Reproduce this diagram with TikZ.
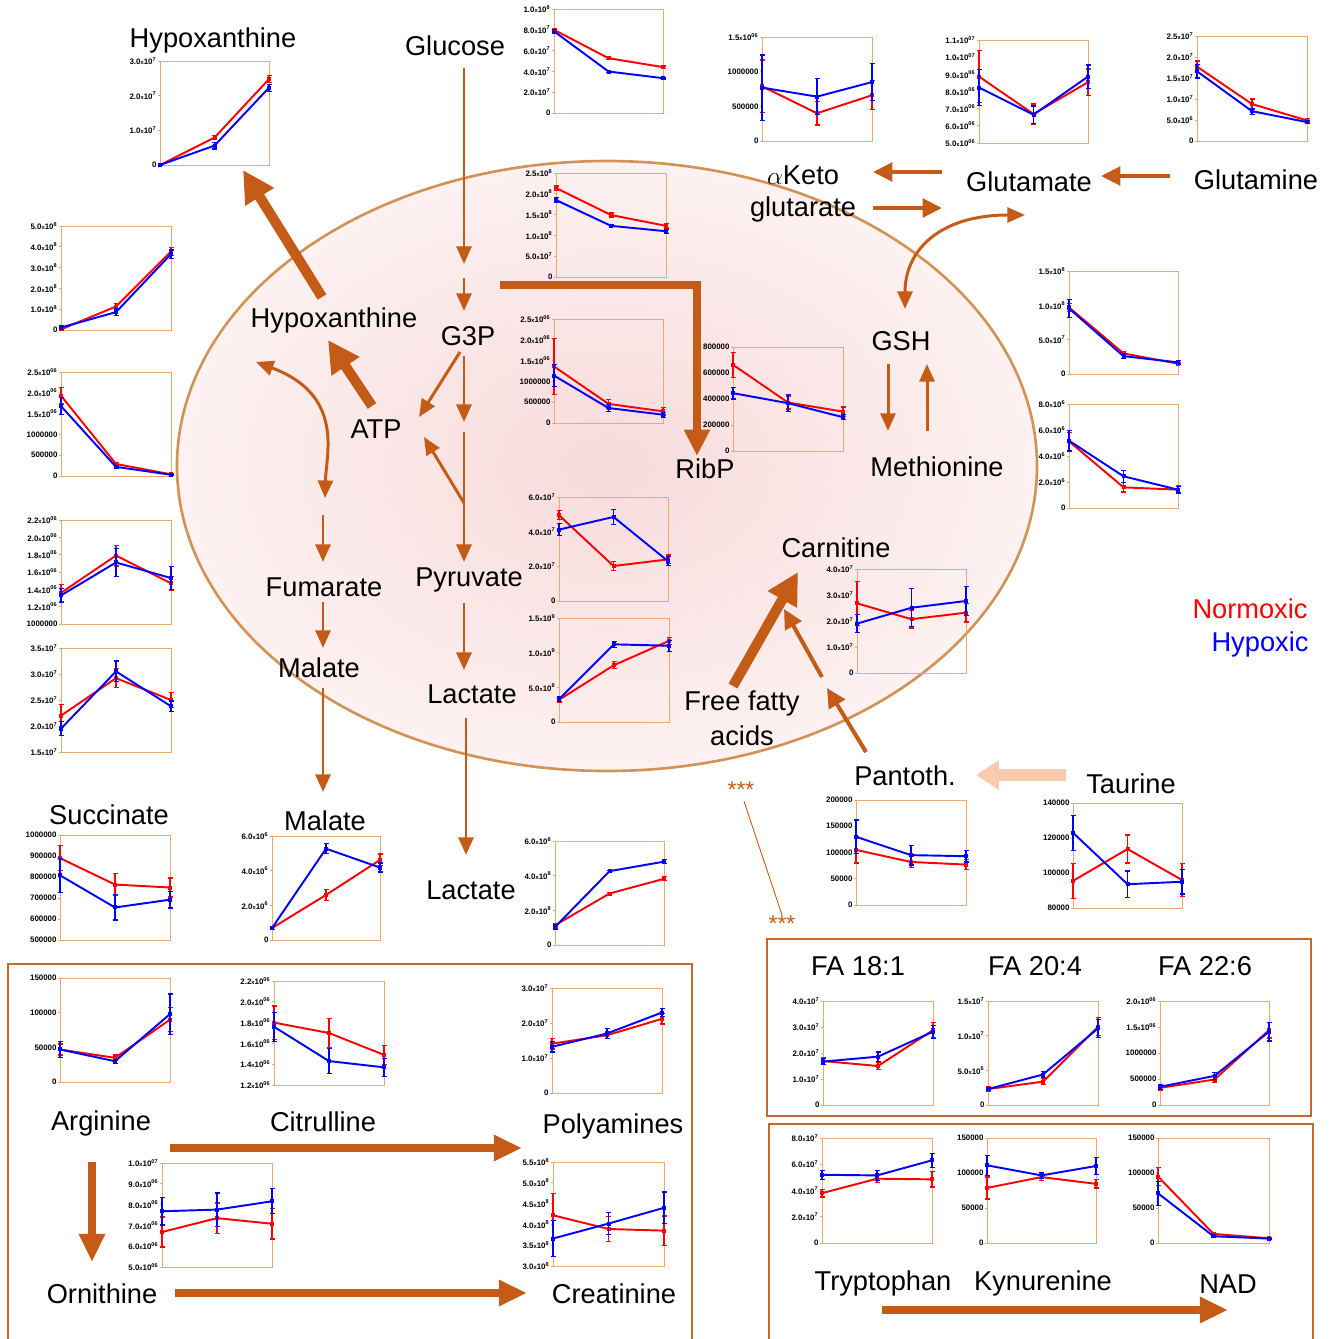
\documentclass[tikz,border=0pt]{standalone}
\usepackage{fontspec}
\setmainfont{Liberation Sans}
\usepackage{xcolor}
\usepackage{tikz}
\usetikzlibrary{arrows.meta}
\usetikzlibrary{positioning}

\definecolor{flowc}{RGB}{196,92,24}
\definecolor{paleflowc}{RGB}{250,202,172}
\definecolor{framec}{RGB}{232,170,112}
\definecolor{cellc}{RGB}{210,148,86}
\definecolor{cellin}{RGB}{248,219,219}
\definecolor{cellout}{RGB}{253,241,241}
\definecolor{boxc}{RGB}{198,106,44}

% tick label like 1.0x10^7
\newcommand{\sci}[2]{#1{\fontsize{3.3}{4}\selectfont x}10\textsuperscript{#2}}

% one data series: colour, three value/error pairs
\newcommand{\chseries}[2]{%
  \foreach \v/\e [count=\i from 0] in {#2}{%
    \pgfmathsetmacro\px{\chL+\i*(\chR-\chL)/2}
    \pgfmathsetmacro\py{\chB-(\v-\chLo)/(\chHi-\chLo)*(\chB-\chT)}
    \pgfmathsetmacro\pe{\e/(\chHi-\chLo)*(\chB-\chT)}
    \coordinate (pt\i) at (\px,\py);
    \draw[#1,errbar] (\px-2.5,\py-\pe) -- (\px+2.5,\py-\pe)
      (\px,\py-\pe) -- (\px,\py+\pe) (\px-2.5,\py+\pe) -- (\px+2.5,\py+\pe);
  }
  \draw[#1,serline] (pt0) -- (pt1) -- (pt2);
  \foreach \i in {0,1,2} \fill[#1] (pt\i) +(-2,-2) rectangle +(2,2);
}

% left, top, right, bottom, ymin, ymax, ticks, red, blue
\newcommand{\minichart}[9]{%
  \def\chL{#1}\def\chT{#2}\def\chR{#3}\def\chB{#4}\def\chLo{#5}\def\chHi{#6}%
  \draw[chartframe] (#1,#2) rectangle (#3,#4);
  \foreach \tv/\tl in {#7}{%
    \pgfmathsetmacro\ty{#4-(\tv-#5)/(#6-#5)*(#4-#2)}
    \draw[chartframe] (#1,\ty) -- ++(-2,0) node[ticklab] {\tl};
  }
  \chseries{red}{#8}
  \chseries{blue}{#9}
}

\begin{document}
\begin{tikzpicture}[x=0.02cm,y=-0.02cm,
  lab/.style={font=\fontsize{15.5}{18}\selectfont,anchor=base,inner sep=0pt},
  stars/.style={font=\fontsize{13}{14}\selectfont,text=flowc,anchor=base,inner sep=0pt},
  ticklab/.style={font=\fontsize{4.5}{5}\selectfont\bfseries,anchor=east,inner sep=0.6pt},
  chartframe/.style={draw=framec,line width=0.5pt},
  errbar/.style={line width=0.7pt},
  serline/.style={line width=1.1pt,line join=round},
  flow/.style={draw=flowc,line width=1.7pt,-{Triangle[length=10pt,width=8.5pt]}},
  midflow/.style={draw=flowc,line width=2.3pt,-{Triangle[length=11pt,width=10.5pt]}},
  thickflow/.style={draw=flowc,line width=4.4pt,-{Triangle[length=16pt,width=14pt]}},
  hugeflow/.style={draw=flowc,line width=5.8pt,-{Triangle[length=18pt,width=18pt]}},
  paleflow/.style={draw=paleflowc,line width=6.8pt,-{Triangle[length=13pt,width=16pt]}},
  bothflow/.style={draw=flowc,line width=1.7pt,{Triangle[length=10pt,width=8.5pt]}-{Triangle[length=10pt,width=8.5pt]}},
  boxline/.style={draw=boxc,line width=1.1pt}]
\useasboundingbox (0,0) rectangle (1334,1339);

% the cell
\shade[inner color=cellin,outer color=cellout] (607,466) ellipse (430 and 305);
\draw[cellc,line width=1.5pt] (607,466) ellipse (430 and 305);

% group frames
\draw[boxline] (8,964) rectangle (692,1350);
\draw[boxline] (767,939) rectangle (1311,1116);
\draw[boxline] (769,1124) rectangle (1313,1350);

% metabolite names
\node[lab] (hyptop) at (213,47) {Hypoxanthine};
\node[lab] (glc) at (455,55) {Glucose};
\node[lab] (akg) at (803,184) {$\alpha$Keto};
\node[lab] (akg2) at (803,216) {glutarate};
\node[lab] (glu) at (1029,191) {Glutamate};
\node[lab] (gln) at (1256,189) {Glutamine};
\node[lab] (hyp) at (334,327) {Hypoxanthine};
\node[lab] (g3p) at (468,345) {G3P};
\node[lab] (gsh) at (901,350) {GSH};
\node[lab] (atp) at (376,438) {ATP};
\node[lab] (ribp) at (705,478) {RibP};
\node[lab] (met) at (937,476) {Methionine};
\node[lab] (carn) at (836,557) {Carnitine};
\node[lab] (fum) at (324,596) {Fumarate};
\node[lab] (pyr) at (469,586) {Pyruvate};
\node[lab] (mal) at (319,677) {Malate};
\node[lab] (lac) at (472,703) {Lactate};
\node[lab] (ffa) at (742,710) {Free fatty};
\node[lab] (ffa2) at (742,745) {acids};
\node[lab,text=red] (normox) at (1250,618) {Normoxic};
\node[lab,text=blue] (hypox) at (1260,651) {Hypoxic};
\node[lab] (pan) at (905,785) {Pantoth.};
\node[lab] (tau) at (1131,793) {Taurine};
\node[lab] (suc) at (109,824) {Succinate};
\node[lab] (mal2) at (325,830) {Malate};
\node[lab] (lac2) at (471,899) {Lactate};
\node[lab] (fa181) at (858,975) {FA 18:1};
\node[lab] (fa204) at (1035,975) {FA 20:4};
\node[lab] (fa226) at (1205,975) {FA 22:6};
\node[lab] (arg) at (101,1130) {Arginine};
\node[lab] (cit) at (323,1131) {Citrulline};
\node[lab] (pam) at (613,1133) {Polyamines};
\node[lab] (orn) at (102,1303) {Ornithine};
\node[lab] (crn) at (614,1303) {Creatinine};
\node[lab] (trp) at (883,1290) {Tryptophan};
\node[lab] (kyn) at (1043,1290) {Kynurenine};
\node[lab] (nad) at (1228,1293) {NAD};
\node[stars] (st1) at (741,797) {***};
\node[stars] (st2) at (782,931) {***};

% arrow ends
\coordinate (glc-out) at (464,68);   \coordinate (g3p-up) at (464,264);
\coordinate (g3p-in0) at (464,278);  \coordinate (g3p-in) at (464,311);
\coordinate (g3p-out) at (464,356);  \coordinate (g3p-dn) at (464,422);
\coordinate (g3p-sw) at (460,352);   \coordinate (atp-ne) at (419,417);
\coordinate (pyr-up) at (464,432);   \coordinate (pyr-in) at (464,562);
\coordinate (pyr-br) at (464,503);   \coordinate (atp-e) at (424,437);
\coordinate (atp-n) at (372,406);    \coordinate (hyp-s) at (328,340);
\coordinate (hyp-n) at (322,297);    \coordinate (hyptop-s) at (243,170);
\coordinate (ppp-a) at (500,285);    \coordinate (ppp-b) at (697,285);
\coordinate (ribp-n) at (697,456);
\coordinate (hyp-sw) at (256,362);   \coordinate (fum-up) at (325,498);
\coordinate (fum-n0) at (323,515);   \coordinate (fum-n) at (323,562);
\coordinate (fum-s) at (323,602);    \coordinate (mal-n) at (323,648);
\coordinate (mal-s) at (323,688);    \coordinate (mal2-n) at (323,792);
\coordinate (pyr-s) at (464,603);    \coordinate (lac-n) at (464,670);
\coordinate (lac-s) at (466,718);    \coordinate (lac2-n) at (466,855);
\coordinate (glu-w) at (942,172);    \coordinate (akg-e) at (873,172);
\coordinate (akg-e2) at (873,208);   \coordinate (glu-w2) at (942,208);
\coordinate (gln-w) at (1170,176);   \coordinate (glu-e) at (1101,176);
\coordinate (gsh-n) at (905,309);    \coordinate (glu-se) at (1025,215);
\coordinate (gsh-s) at (888,364);    \coordinate (met-n) at (888,431);
\coordinate (met-n2) at (927,431);   \coordinate (gsh-s2) at (927,364);
\coordinate (ffa-n) at (733,686);    \coordinate (carn-s) at (798,572);
\coordinate (pan-n) at (866,752);    \coordinate (mid-a) at (827,688);
\coordinate (mid-b) at (822,677);    \coordinate (carn-se) at (784,609);
\coordinate (tau-w) at (1066,775);   \coordinate (pan-e) at (976,775);
\coordinate (arg-e) at (170,1148);   \coordinate (pam-w) at (522,1148);
\coordinate (arg-s) at (92,1162);    \coordinate (orn-n) at (92,1262);
\coordinate (orn-e) at (175,1293);   \coordinate (crn-w) at (527,1293);
\coordinate (trp-s) at (882,1310);   \coordinate (nad-s) at (1228,1310);

% arrows
\draw[flow] (glc-out) -- (g3p-up);
\draw[flow] (g3p-in0) -- (g3p-in);
\draw[flow] (g3p-out) -- (g3p-dn);
\draw[flow] (g3p-sw) -- (atp-ne);
\draw[flow] (pyr-up) -- (pyr-in);
\draw[flow] (pyr-br) -- (atp-e);
\draw[hugeflow] (atp-n) -- (hyp-s);
\draw[hugeflow] (hyp-n) -- (hyptop-s);
\draw[thickflow,-{Triangle[length=15pt,width=14pt]}] (ppp-a) -- (ppp-b) -- (ribp-n);
\draw[bothflow] (hyp-sw) .. controls (345,395) and (326,455) .. (fum-up);
\draw[flow] (fum-n0) -- (fum-n);
\draw[flow] (fum-s) -- (mal-n);
\draw[flow] (mal-s) -- (mal2-n);
\draw[flow] (pyr-s) -- (lac-n);
\draw[flow] (lac-s) -- (lac2-n);
\draw[midflow] (glu-w) -- (akg-e);
\draw[midflow] (akg-e2) -- (glu-w2);
\draw[midflow] (gln-w) -- (glu-e);
\draw[bothflow] (gsh-n) .. controls (905,250) and (940,215) .. (glu-se);
\draw[flow] (gsh-s) -- (met-n);
\draw[flow] (met-n2) -- (gsh-s2);
\draw[hugeflow] (ffa-n) -- (carn-s);
\draw[midflow] (pan-n) -- (mid-a);
\draw[midflow] (mid-b) -- (carn-se);
\draw[paleflow] (tau-w) -- (pan-e);
\draw[flowc,line width=0.5pt] (st1.south) ++(3,4) coordinate (st1-s) -- (st2.north);
\draw[thickflow] (arg-e) -- (pam-w);
\draw[thickflow] (arg-s) -- (orn-n);
\draw[thickflow] (orn-e) -- (crn-w);
\draw[thickflow] (trp-s) -- (nad-s);

% small charts
\minichart{160}{61}{269}{165}{0}{3}{0/0,1/\sci{1.0}{7},2/\sci{2.0}{7},3/\sci{3.0}{7}}
  {0/0,0.79/0.06,2.48/0.1}{0/0,0.56/0.1,2.23/0.1}
\minichart{554}{9}{663}{113}{0}{10}{0/0,2/\sci{2.0}{7},4/\sci{4.0}{7},6/\sci{6.0}{7},8/\sci{8.0}{7},10/\sci{1.0}{8}}
  {8.0/0.1,5.27/0.1,4.41/0.1}{7.85/0.15,3.99/0.08,3.35/0.08}
\minichart{762}{37}{872}{141}{0}{1.5}{0/0,0.5/500000,1/1000000,1.5/\sci{1.5}{06}}
  {0.79/0.38,0.4/0.17,0.66/0.21}{0.77/0.47,0.64/0.26,0.85/0.27}
\minichart{979}{40}{1088}{143}{5}{11}{5/\sci{5.0}{06},6/\sci{6.0}{06},7/\sci{7.0}{06},8/\sci{8.0}{06},9/\sci{9.0}{06},10/\sci{1.0}{07},11/\sci{1.1}{07}}
  {8.87/1.5,6.69/0.58,8.54/0.77}{8.23/1.06,6.65/0.5,8.87/0.68}
\minichart{1197}{36}{1307}{141}{0}{25}{0/0,5/\sci{5.0}{6},10/\sci{1.0}{7},15/\sci{1.5}{7},20/\sci{2.0}{7},25/\sci{2.5}{7}}
  {17.7/1.35,8.8/1.2,4.9/0.4}{16.6/1.6,7.1/0.7,4.5/0.4}
\minichart{61}{226}{171}{330}{0}{5}{0/0,1/\sci{1.0}{8},2/\sci{2.0}{8},3/\sci{3.0}{8},4/\sci{4.0}{8},5/\sci{5.0}{8}}
  {0.03/0.03,1.13/0.15,3.78/0.2}{0.12/0.1,0.86/0.15,3.65/0.2}
\minichart{61}{372}{171}{476}{0}{2.5}{0/0,0.5/500000,1/1000000,1.5/\sci{1.5}{06},2/\sci{2.0}{06},2.5/\sci{2.5}{06}}
  {1.93/0.2,0.29/0.03,0.04/0.01}{1.68/0.2,0.22/0.03,0.03/0.01}
\minichart{61}{520}{171}{624}{1}{2.2}{1/1000000,1.2/\sci{1.2}{06},1.4/\sci{1.4}{06},1.6/\sci{1.6}{06},1.8/\sci{1.8}{06},2/\sci{2.0}{06},2.2/\sci{2.2}{06}}
  {1.36/0.1,1.79/0.12,1.47/0.08}{1.33/0.08,1.71/0.16,1.53/0.13}
\minichart{61}{648}{171}{752}{1.5}{3.5}{1.5/\sci{1.5}{7},2/\sci{2.0}{7},2.5/\sci{2.5}{7},3/\sci{3.0}{7},3.5/\sci{3.5}{7}}
  {2.2/0.22,2.92/0.18,2.5/0.15}{1.95/0.13,3.05/0.2,2.38/0.1}
\minichart{556}{173}{666}{277}{0}{2.5}{0/0,0.5/\sci{5.0}{7},1/\sci{1.0}{8},1.5/\sci{1.5}{8},2/\sci{2.0}{8},2.5/\sci{2.5}{8}}
  {2.14/0.05,1.49/0.05,1.23/0.05}{1.85/0.06,1.23/0.02,1.1/0.05}
\minichart{554}{319}{663}{423}{0}{2.5}{0/0,0.5/500000,1/1000000,1.5/\sci{1.5}{06},2/\sci{2.0}{06},2.5/\sci{2.5}{06}}
  {1.36/0.68,0.46/0.1,0.28/0.09}{1.14/0.26,0.36/0.08,0.2/0.06}
\minichart{733}{347}{843}{451}{0}{8}{0/0,2/200000,4/400000,6/600000,8/800000}
  {6.63/0.95,3.73/0.5,3.03/0.35}{4.45/0.45,3.68/0.65,2.6/0.2}
\minichart{1069}{271}{1178}{374}{0}{1.5}{0/0,0.5/\sci{5.0}{7},1/\sci{1.0}{8},1.5/\sci{1.5}{8}}
  {0.97/0.06,0.3/0.03,0.15/0.01}{0.955/0.13,0.26/0.03,0.17/0.03}
\minichart{1069}{404}{1178}{508}{0}{8}{0/0,2/\sci{2.0}{6},4/\sci{4.0}{6},6/\sci{6.0}{6},8/\sci{8.0}{6}}
  {5.13/0.7,1.59/0.35,1.41/0.3}{5.18/0.8,2.44/0.45,1.41/0.25}
\minichart{559}{497}{668}{601}{0}{6}{0/0,2/\sci{2.0}{7},4/\sci{4.0}{7},6/\sci{6.0}{7}}
  {4.95/0.25,2.02/0.25,2.4/0.25}{4.12/0.35,4.85/0.45,2.3/0.25}
\minichart{559}{618}{669}{722}{0}{1.5}{0/0,0.5/\sci{5.0}{8},1/\sci{1.0}{9},1.5/\sci{1.5}{9}}
  {0.32/0.04,0.82/0.05,1.17/0.05}{0.33/0.03,1.12/0.04,1.1/0.08}
\minichart{857}{569}{966}{673}{0}{4}{0/0,1/\sci{1.0}{7},2/\sci{2.0}{7},3/\sci{3.0}{7},4/\sci{4.0}{7}}
  {2.68/0.84,2.07/0.34,2.32/0.36}{1.9/0.34,2.51/0.73,2.77/0.56}
\minichart{60}{835}{170}{940}{5}{10}{5/500000,6/600000,7/700000,8/800000,9/900000,10/1000000}
  {8.9/0.6,7.64/0.52,7.5/0.45}{8.08/0.8,6.55/0.6,6.92/0.4}
\minichart{272}{836}{380}{940}{0}{6}{0/0,2/\sci{2.0}{6},4/\sci{4.0}{6},6/\sci{6.0}{6}}
  {0.69/0.08,2.6/0.32,4.62/0.34}{0.69/0.1,5.27/0.3,4.18/0.26}
\minichart{555}{841}{664}{945}{0}{6}{0/0,2/\sci{2.0}{8},4/\sci{4.0}{8},6/\sci{6.0}{8}}
  {1.14/0.1,2.97/0.05,3.82/0.12}{1.04/0.12,4.26/0.06,4.81/0.12}
\minichart{856}{800}{966}{905}{0}{2}{0/0,0.5/50000,1/100000,1.5/150000,2/200000}
  {1.05/0.25,0.82/0.1,0.77/0.1}{1.3/0.32,0.95/0.19,0.93/0.11}
\minichart{1073}{803}{1182}{908}{8}{14}{8/80000,10/100000,12/120000,14/140000}
  {9.55/1.0,11.37/0.8,9.6/0.95}{12.3/1.0,9.36/0.75,9.5/0.7}
\minichart{60}{978}{170}{1082}{0}{15}{0/0,5/50000,10/100000,15/150000}
  {4.69/0.8,3.49/0.4,9.0/1.75}{4.69/1.1,3.0/0.3,9.8/2.9}
\minichart{274}{981}{384}{1085}{1.2}{2.2}{1.2/\sci{1.2}{06},1.4/\sci{1.4}{06},1.6/\sci{1.6}{06},1.8/\sci{1.8}{06},2/\sci{2.0}{06},2.2/\sci{2.2}{06}}
  {1.8/0.16,1.7/0.14,1.49/0.09}{1.76/0.14,1.43/0.12,1.37/0.085}
\minichart{552}{988}{662}{1093}{0}{3}{0/0,1/\sci{1.0}{7},2/\sci{2.0}{7},3/\sci{3.0}{7}}
  {1.41/0.15,1.65/0.1,2.12/0.15}{1.32/0.15,1.7/0.15,2.3/0.12}
\minichart{162}{1163}{272}{1267}{5}{10}{5/\sci{5.0}{06},6/\sci{6.0}{06},7/\sci{7.0}{06},8/\sci{8.0}{06},9/\sci{9.0}{06},10/\sci{1.0}{07}}
  {6.68/0.72,7.35/0.73,7.08/0.73}{7.68/0.66,7.76/0.8,8.16/0.6}
\minichart{553}{1162}{664}{1266}{3}{5.5}{3/\sci{3.0}{8},3.5/\sci{3.5}{8},4/\sci{4.0}{8},4.5/\sci{4.5}{8},5/\sci{5.0}{8},5.5/\sci{5.5}{8}}
  {4.22/0.53,3.89/0.3,3.85/0.35}{3.66/0.44,4.02/0.27,4.4/0.38}
\minichart{823}{1001}{933}{1105}{0}{4}{0/0,1/\sci{1.0}{7},2/\sci{2.0}{7},3/\sci{3.0}{7},4/\sci{4.0}{7}}
  {1.69/0.12,1.5/0.13,2.88/0.3}{1.67/0.12,1.86/0.18,2.82/0.25}
\minichart{988}{1001}{1098}{1105}{0}{15}{0/0,5/\sci{5.0}{6},10/\sci{1.0}{7},15/\sci{1.5}{7}}
  {2.3/0.3,3.37/0.45,11.3/1.3}{2.3/0.2,4.4/0.4,11.05/1.3}
\minichart{1160}{1001}{1269}{1105}{0}{2}{0/0,0.5/500000,1/1000000,1.5/\sci{1.5}{06},2/\sci{2.0}{06}}
  {0.33/0.04,0.49/0.06,1.44/0.15}{0.35/0.05,0.56/0.07,1.41/0.18}
\minichart{822}{1138}{932}{1243}{0}{8}{0/0,2/\sci{2.0}{7},4/\sci{4.0}{7},6/\sci{6.0}{7},8/\sci{8.0}{7}}
  {3.8/0.3,4.9/0.3,4.85/0.58}{5.2/0.35,5.15/0.4,6.3/0.52}
\minichart{987}{1138}{1096}{1243}{0}{15}{0/0,5/50000,10/100000,15/150000}
  {7.87/1.57,9.42/0.5,8.45/0.6}{11.1/1.45,9.66/0.45,11.0/1.2}
\minichart{1158}{1138}{1269}{1243}{0}{15}{0/0,5/50000,10/100000,15/150000}
  {9.5/1.25,1.3/0.1,0.68/0.05}{7.1/1.7,0.97/0.1,0.63/0.05}
\end{tikzpicture}
\end{document}
